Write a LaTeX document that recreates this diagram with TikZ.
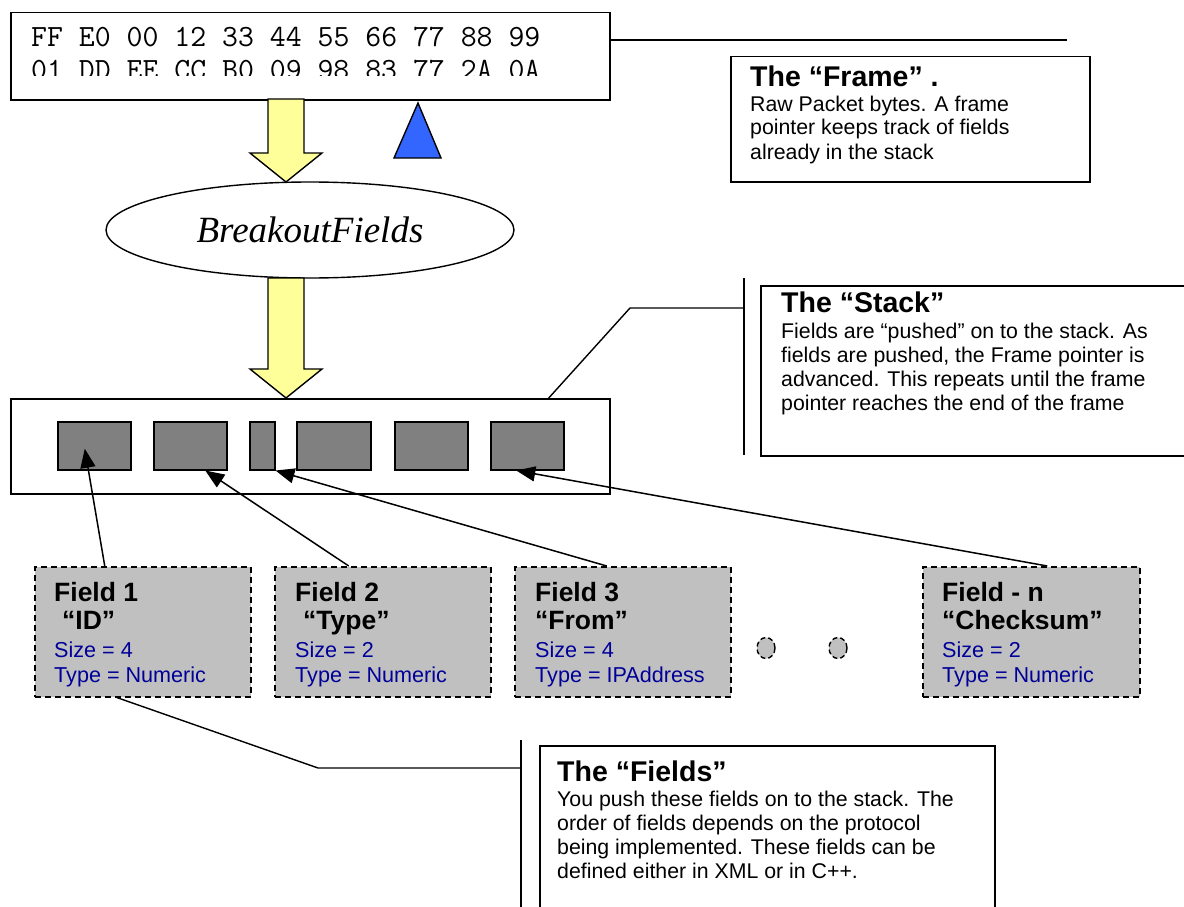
\documentclass[tikz,border=0pt]{standalone}
\usepackage{fontspec}
\setmainfont{Liberation Sans}
\newfontfamily\seriffont{Liberation Serif}
\usetikzlibrary{arrows.meta,shapes.geometric}
\definecolor{arrowyellow}{HTML}{FFFF99}
\definecolor{pointerblue}{HTML}{3366FF}
\definecolor{fieldfill}{HTML}{C0C0C0}
\definecolor{slotfill}{HTML}{808080}
\definecolor{infoblue}{HTML}{000099}
\begin{document}
\begin{tikzpicture}[x=1pt,y=-1pt,
  rectbox/.style={draw, line width=1.5pt, inner sep=0pt, anchor=north west},
  slot/.style={rectbox, fill=slotfill, minimum height=48},
  fieldbox/.style={draw, line width=1.5pt, dash pattern=on 6pt off 4pt, fill=fieldfill, inner sep=0pt, anchor=north west, minimum width=216, minimum height=130},
  ftitle/.style={anchor=base west, inner sep=0pt, font=\bfseries\fontsize{26.5}{30}\selectfont},
  finfo/.style={anchor=base west, inner sep=0pt, text=infoblue, font=\fontsize{21.6}{25}\selectfont},
  ctitle/.style={anchor=base west, inner sep=0pt, font=\bfseries\fontsize{28.5}{32}\selectfont},
  cbody/.style={anchor=base west, inner sep=0pt, font=\fontsize{21.3}{25}\selectfont},
  leader/.style={line width=1.4pt},
  pusharrow/.style={line width=1.5pt, -{Triangle[length=19pt,width=15pt]}},
  blockarrow/.style={draw, line width=1.4pt, fill=arrowyellow, line join=miter},
  hex/.style={anchor=base west, inner sep=0pt, font=\ttfamily\fontsize{30.9}{34}\selectfont},
  dotmark/.style={ellipse, draw, line width=1.4pt, dash pattern=on 5pt off 3pt, fill=fieldfill, minimum width=18, minimum height=21, inner sep=0pt},
]
\useasboundingbox (0,0) rectangle (1184,907);

% ---------- frame ----------
\node[rectbox, minimum width=599, minimum height=87] (frame) at (10,12) {};
\begin{scope}
  \clip (12,14) rectangle (607,76);
  \node[hex] (hexa) at (31,47) {FF E0 00 12 33 44 55 66 77 88 99};
  \node[hex] (hexb) at (31,80) {01 DD EE CC B0 09 98 83 77 2A 0A};
\end{scope}
\draw[line width=1.4pt, fill=pointerblue] (418,103) -- (441,158) -- (394,158) -- cycle;

% ---------- block arrow 1 ----------
\draw[blockarrow] (268,99) -- (304,99) -- (304,153) -- (322,153) -- (286,182) -- (250,153) -- (268,153) -- cycle;

% ---------- ellipse ----------
\node[ellipse, draw, line width=1.4pt, minimum width=408, minimum height=96, inner sep=0pt,
      font=\seriffont\itshape\fontsize{37}{40}\selectfont] (breakout) at (310,230) {BreakoutFields};

% ---------- block arrow 2 ----------
\draw[blockarrow] (268,278) -- (304,278) -- (304,369) -- (322,369) -- (286,398) -- (250,369) -- (268,369) -- cycle;

% ---------- stack ----------
\node[rectbox, minimum width=599, minimum height=95] (stack) at (10,398) {};
\node[slot, minimum width=73] (s1) at (57,421) {};
\node[slot, minimum width=73] (s2) at (153,421) {};
\node[slot, minimum width=25] (s3) at (249,421) {};
\node[slot, minimum width=74] (s4) at (296,421) {};
\node[slot, minimum width=73] (s5) at (394,421) {};
\node[slot, minimum width=73] (s6) at (490,421) {};

% ---------- fields ----------
\node[fieldbox] (f1) at (34,566) {};
\node[fieldbox] (f2) at (274,566) {};
\node[fieldbox] (f3) at (514,566) {};
\node[fieldbox, minimum width=217] (fn) at (922,566) {};

\node[ftitle] (f1a) at (54,601) {Field 1};
\node[ftitle] (f1b) at (62,629) {“ID”};
\node[finfo] (f1c) at (54,657) {Size = 4};
\node[finfo] (f1d) at (54,682) {Type = Numeric};

\node[ftitle] (f2a) at (295,601) {Field 2};
\node[ftitle] (f2b) at (303,629) {“Type”};
\node[finfo] (f2c) at (295,657) {Size = 2};
\node[finfo] (f2d) at (295,682) {Type = Numeric};

\node[ftitle] (f3a) at (535,601) {Field 3};
\node[ftitle] (f3b) at (535,629) {“From”};
\node[finfo] (f3c) at (535,657) {Size = 4};
\node[finfo] (f3d) at (535,682) {Type = IPAddress};

\node[ftitle] (fna) at (942,601) {Field - n};
\node[ftitle] (fnb) at (942,629) {“Checksum”};
\node[finfo] (fnc) at (942,657) {Size = 2};
\node[finfo] (fnd) at (942,682) {Type = Numeric};

\node[dotmark] (dot1) at (766,648) {};
\node[dotmark] (dot2) at (838,648) {};

% ---------- push arrows ----------
\draw[pusharrow] ([xshift=-38pt]f1.north) -- ([xshift=-9.5pt,yshift=-3pt]s1.center);
\draw[pusharrow] ([xshift=-34pt]f2.north) -- ([xshift=15pt]s2.south);
\draw[pusharrow] ([xshift=-16pt]f3.north) -- (s3.south east);
\draw[pusharrow] ([xshift=16pt]fn.north) -- ([xshift=-11pt]s6.south);

% ---------- callout: frame ----------
\node[rectbox, minimum width=359, minimum height=125] (framenote) at (730,56) {};
\coordinate (frameleadend) at (1067,40);
\draw[leader] (frame.east |- frameleadend) -- (frameleadend);
\node[ctitle] (fnt) at (750,86) {The “Frame” .};
\node[cbody] (fnl1) at (750,111) {Raw Packet bytes. A frame};
\node[cbody] (fnl2) at (750,135) {pointer keeps track of fields};
\node[cbody] (fnl3) at (750,159) {already in the stack};

% ---------- callout: stack ----------
\node[rectbox, minimum width=440, minimum height=170] (stacknote) at (760,285) {};
\coordinate (stackbend) at (630,308);
\coordinate (stackbarmid) at (744,308);
\coordinate (stackbartop) at (744,278);
\coordinate (stackbarbot) at (744,455);
\draw[leader] ([xshift=238.5pt]stack.north) -- (stackbend) -- (stackbarmid);
\draw[leader] (stackbartop) -- (stackbarbot);
\node[ctitle] (snt) at (781,312) {The “Stack”};
\node[cbody] (snl1) at (781,338) {Fields are “pushed” on to the stack. As};
\node[cbody] (snl2) at (781,362) {fields are pushed, the Frame pointer is};
\node[cbody] (snl3) at (781,386) {advanced. This repeats until the frame};
\node[cbody] (snl4) at (781,410) {pointer reaches the end of the frame};

% ---------- callout: fields ----------
\node[rectbox, minimum width=455, minimum height=180] (fieldsnote) at (539,745) {};
\coordinate (fieldsbend) at (318,768);
\coordinate (fieldsbarmid) at (521,768);
\coordinate (fieldsbartop) at (521,740);
\coordinate (fieldsbarbot) at (521,907);
\draw[leader] ([xshift=-26pt]f1.south) -- (fieldsbend) -- (fieldsbarmid);
\draw[leader] (fieldsbartop) -- (fieldsbarbot);
\node[ctitle] (fdt) at (557,781) {The “Fields”};
\node[cbody] (fdl1) at (557,806) {You push these fields on to the stack. The};
\node[cbody] (fdl2) at (557,830) {order of fields depends on the protocol};
\node[cbody] (fdl3) at (557,854) {being implemented. These fields can be};
\node[cbody] (fdl4) at (557,878) {defined either in XML or in C++.};
\end{tikzpicture}
\end{document}
